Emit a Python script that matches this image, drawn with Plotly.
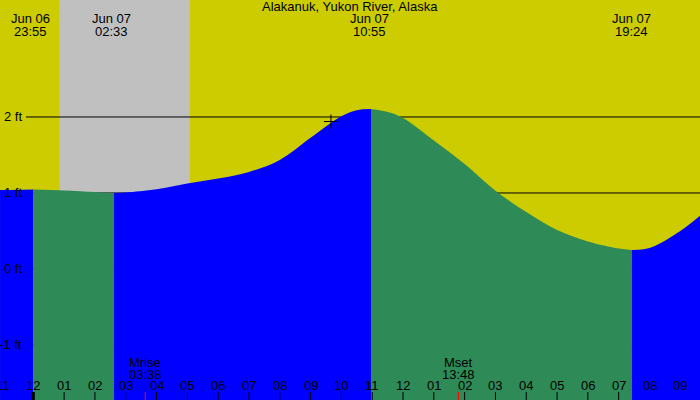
import plotly.graph_objects as go

# ---------------- data (hours relative to midnight, Jun 07) ----------------
tide_hours = [-1.08, -1.0, 0.0, 1.0, 2.0, 2.62, 3.0, 4.0, 5.0, 6.0, 7.0, 8.0, 9.0,
              10.0, 10.5, 10.96, 11.5, 12.0, 13.0, 14.0, 15.0, 16.0, 17.0, 18.0,
              19.0, 19.43, 20.0, 21.0, 21.64]
tide_ft = [1.04, 1.04, 1.046, 1.033, 1.013, 1.0, 1.007, 1.05, 1.125, 1.19, 1.276,
           1.434, 1.725, 2.01, 2.09, 2.105, 2.066, 1.987, 1.69, 1.38, 1.03, 0.75,
           0.513, 0.362, 0.27, 0.25, 0.276, 0.50, 0.70]
# turning points of the drawn curve (segment boundaries), and rising/falling flag
turn_hours = [0.0, 2.62, 10.96, 19.43]
segment_rising = [True, False, True, False, True]

event_hours = [-0.083, 2.55, 10.917, 19.4]
event_dates = ["Jun 06", "Jun 07", "Jun 07", "Jun 07"]
event_times = ["23:55", "02:33", "10:55", "19:24"]

sunset_hour, sunrise_hour = 0.85, 5.083

moon_hours = [3.633, 13.8]
moon_names = ["Mrise", "Mset"]
moon_times = ["03:38", "13:48"]

cross_hour, cross_ft = 9.66, 1.94

hour_ticks = list(range(-1, 22))
hour_labels = ["11", "12", "01", "02", "03", "04", "05", "06", "07", "08", "09",
               "10", "11", "12", "01", "02", "03", "04", "05", "06", "07", "08", "09"]
tick_marks = list(range(0, 20))

ft_levels = [-1, 0, 1, 2]
ft_labels = ["-1 ft", "0 ft", "1 ft", "2 ft"]

title = "Alakanuk, Yukon River, Alaska"

# ---------------- style ----------------
YELLOW = "#cccc00"
GRAY = "#c0c0c0"
BLUE = "#0000ff"
GREEN = "#2e8b57"
FONT = "Liberation Sans, Arial, sans-serif"
FS = 13
W, H = 700, 400
X0, X1 = -1.081, 21.639
Y0, Y1 = -1.724, 3.539

fig = go.Figure()

# split tide into rising / falling segments
bounds = [tide_hours[0]] + turn_hours + [tide_hours[-1]]
for i in range(len(bounds) - 1):
    a, b = bounds[i], bounds[i + 1]
    xs = [h for h in tide_hours if a - 1e-9 <= h <= b + 1e-9]
    ys = [v for h, v in zip(tide_hours, tide_ft) if a - 1e-9 <= h <= b + 1e-9]
    fig.add_trace(go.Scatter(x=[a, b], y=[Y0 - 1, Y0 - 1], mode="lines",
                             line=dict(width=0), hoverinfo="skip"))
    fig.add_trace(go.Scatter(x=xs, y=ys, mode="lines", fill="tonexty",
                             line=dict(width=0, shape="spline", smoothing=1.0),
                             fillcolor=BLUE if segment_rising[i] else GREEN,
                             hoverinfo="skip"))

fig.add_trace(go.Scatter(x=[cross_hour], y=[cross_ft], mode="markers",
                         marker=dict(symbol="cross-thin", size=10,
                                     line=dict(color="black", width=1))))

shapes = []
shapes.append(dict(type="rect", xref="x", yref="paper", x0=sunset_hour, x1=sunrise_hour,
                   y0=0, y1=1, fillcolor=GRAY, line=dict(width=0), layer="below"))
for v in ft_levels:
    shapes.append(dict(type="line", xref="paper", yref="y", x0=26 / W, x1=1, y0=v, y1=v,
                       line=dict(color="black", width=1), layer="below"))
for h in tick_marks:
    shapes.append(dict(type="line", xref="x", yref="paper", x0=h, x1=h, y0=0, y1=8 / H,
                       line=dict(color="black", width=3 if h == 0 else 1)))
for h in moon_hours:
    shapes.append(dict(type="line", xref="x", yref="paper", x0=h, x1=h, y0=0, y1=8 / H,
                       line=dict(color="red", width=1)))

ann = []
def txt(x, y, s, xref="x", xanchor="center"):
    ann.append(dict(x=x, y=y, xref=xref, yref="paper", text=s, showarrow=False,
                    xanchor=xanchor, yanchor="middle",
                    font=dict(family=FONT, size=FS, color="black")))

txt(0.5, 1 - 7 / H, title, xref="paper")
for h, d, t in zip(event_hours, event_dates, event_times):
    txt(h, 1 - 19 / H, d)
    txt(h, 1 - 31 / H, t)
for h, n, t in zip(moon_hours, moon_names, moon_times):
    txt(h, 1 - 362 / H, n)
    txt(h, 1 - 374 / H, t)
for h, l in zip(hour_ticks, hour_labels):
    txt(h, 1 - 385 / H, l)
for v, l in zip(ft_levels, ft_labels):
    ann.append(dict(x=24 / W, y=v, xref="paper", yref="y", text=l, showarrow=False,
                    xanchor="right", yanchor="middle",
                    font=dict(family=FONT, size=FS, color="black")))

fig.update_layout(width=W, height=H, margin=dict(l=0, r=0, t=0, b=0),
                  paper_bgcolor=YELLOW, plot_bgcolor=YELLOW, showlegend=False,
                  xaxis=dict(range=[X0, X1], visible=False),
                  yaxis=dict(range=[Y0, Y1], visible=False),
                  shapes=shapes, annotations=ann)

fig.write_html("out.html")
